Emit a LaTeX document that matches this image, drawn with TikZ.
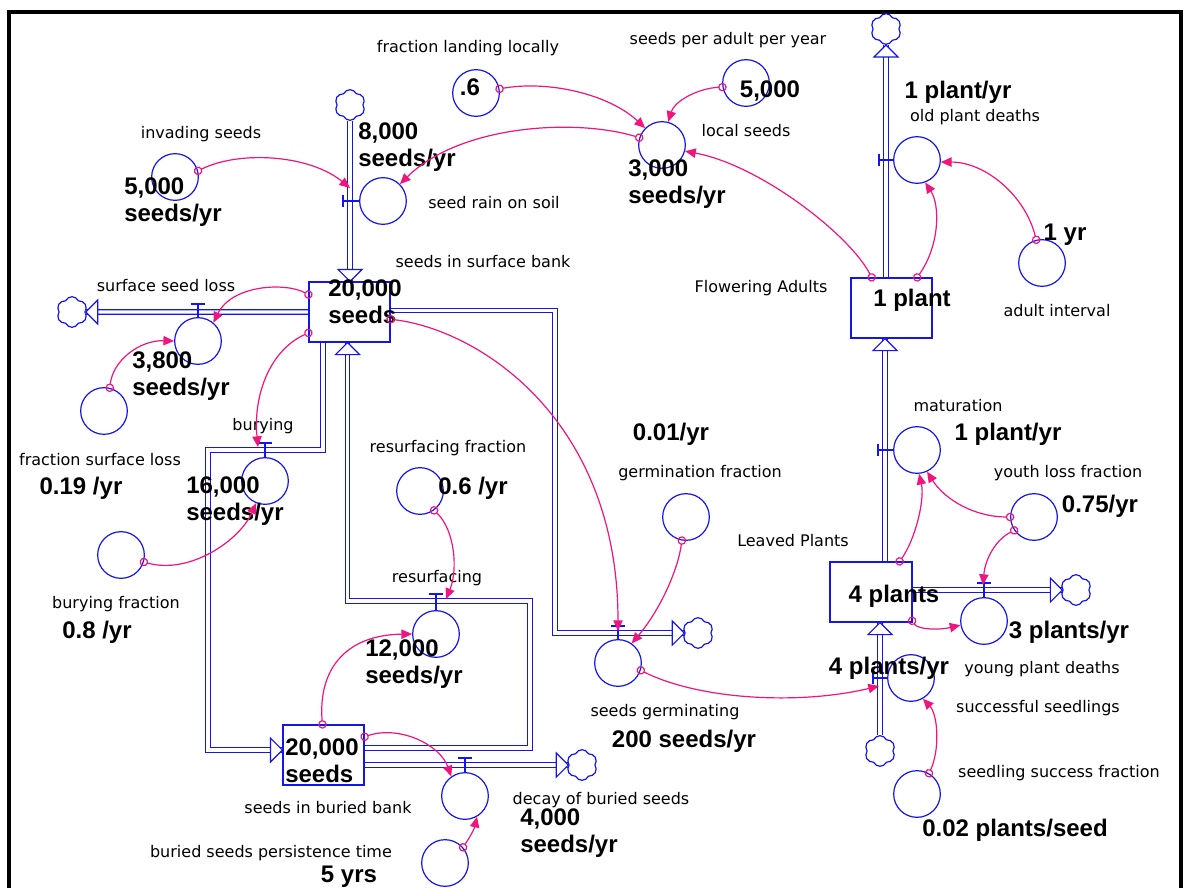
\documentclass[tikz,border=0pt]{standalone}
\usepackage{fontspec}
\setmainfont{DejaVu Sans}
\newfontfamily\valfont{Liberation Sans}
\usetikzlibrary{arrows.meta,shapes.symbols,calc}
\definecolor{pblue}{RGB}{20,20,240}
\definecolor{cpink}{RGB}{240,20,125}
\begin{document}
\begin{tikzpicture}[x=0.75pt,y=-0.75pt,
  pipe/.style={draw=pblue,line width=0.9pt,double=white,double distance=2.6pt},
  stock/.style={draw=pblue,line width=0.9pt,fill=white,rectangle,minimum width=60.75pt,minimum height=45pt,inner sep=0},
  aux/.style={draw=pblue,line width=0.9pt,circle,minimum size=35pt,inner sep=0},
  cloudn/.style={draw=pblue,line width=0.9pt,fill=white,cloud,cloud puffs=6,cloud puff arc=130,aspect=1,minimum width=23pt,minimum height=23pt,inner sep=0},
  lab/.style={font=\fontsize{12}{14}\selectfont,inner sep=0},
  val/.style={font=\valfont\bfseries\fontsize{18}{20}\selectfont,inner sep=0,align=left},
  conn/.style={draw=cpink,line width=0.9pt,shorten <=-3.2pt,{Circle[open,length=6.4pt,width=6.4pt]}-{Triangle[length=8pt,width=7pt]}},
  valve/.style={draw=pblue,line width=0.9pt},
  ptip/.pic={\draw[pblue,line width=0.9pt,fill=white] (0,0) -- (-12,12) -- (-12,-12) -- cycle;}
]
\useasboundingbox (0,0) rectangle (1184,888);
\fill[white] (0,0) rectangle (1184,888);
\draw[line width=3pt] (9,900) -- (9,12) -- (1181,12) -- (1181,900);

% ---------- stocks ----------
\node[stock] (sfb) at (349.5,312) {};
\node[stock] (bb) at (323.5,755) {};
\node[stock] (fa) at (891.5,308) {};
\node[stock] (lp) at (871,592) {};

% ---------- clouds ----------
\node[cloudn] (cl1) at (350,105) {};
\node[cloudn] (cl2) at (886,29) {};
\node[cloudn] (cl3) at (72,312) {};
\node[cloudn] (cl4) at (698,633) {};
\node[cloudn] (cl5) at (582,765) {};
\node[cloudn] (cl6) at (1076,590) {};
\node[cloudn] (cl7) at (880,751) {};

% ---------- corner coordinates ----------
\coordinate (bu1) at (323,450);
\coordinate (bu2) at (208,450);
\coordinate (bu3) at (208,750);
\coordinate (rs1) at (530,748);
\coordinate (rs2) at (530,601);
\coordinate (rs3) at (347.5,601);
\coordinate (g1) at (555,310.5);
\coordinate (g2) at (555,633);
\coordinate (m1) at (885,450);

% ---------- pipes ----------
\draw[pipe] (cl1.south) -- (cl1.south |- sfb.north);
\draw[pipe] (fa.north -| cl2) -- (cl2.south);
\draw[pipe] (sfb.west) -- (cl3.east);
\draw[pipe] (bu1 |- sfb.south) -- (bu1) -- (bu2) -- (bu3) -- (bu3 -| bb.west);
\draw[pipe] (rs1 -| bb.east) -- (rs1) -- (rs2) -- (rs3) -- (rs3 |- sfb.south);
\draw[pipe] (bb.east |- cl5) -- (cl5.west);
\draw[pipe] (g1 -| sfb.east) -- (g1) -- (g2) -- (cl4.west);
\draw[pipe] (m1 |- lp.north) -- (m1 |- fa.south);
\draw[pipe] (lp.east |- cl6) -- (cl6.west);
\draw[pipe] (cl7.north) -- (cl7.north |- lp.south);

% redraw stock borders over pipe ends
\draw[pblue,line width=0.9pt] (sfb.north west) rectangle (sfb.south east);
\draw[pblue,line width=0.9pt] (bb.north west) rectangle (bb.south east);
\draw[pblue,line width=0.9pt] (fa.north west) rectangle (fa.south east);
\draw[pblue,line width=0.9pt] (lp.north west) rectangle (lp.south east);

% ---------- pipe arrowheads ----------
\pic[rotate=-90] at (cl1.south |- sfb.north) {ptip};
\pic[rotate=90] at (cl2.south) {ptip};
\pic[rotate=180] at (cl3.east) {ptip};
\pic at (bu3 -| bb.west) {ptip};
\pic[rotate=90] at (rs3 |- sfb.south) {ptip};
\pic at (cl5.west) {ptip};
\pic at (cl4.west) {ptip};
\pic[rotate=90] at (m1 |- fa.south) {ptip};
\pic at (cl6.west) {ptip};
\pic[rotate=90] at (cl7.north |- lp.south) {ptip};

% ---------- auxiliaries / rates ----------
\node[aux] (inv) at (175,177) {};
\node[aux] (fll) at (476,93) {};
\node[aux] (spa) at (746,83) {};
\node[aux] (local) at (662,145) {};
\node[aux] (rain) at (383,201) {};
\node[aux] (opd) at (917,160) {};
\node[aux] (ai) at (1042,263) {};
\node[aux] (ssl) at (198,341) {};
\node[aux] (fsl) at (104,411) {};
\node[aux] (bur) at (265,481) {};
\node[aux] (bf) at (121,555) {};
\node[aux] (rf) at (420,491) {};
\node[aux] (res) at (436,634) {};
\node[aux] (dec) at (465,796) {};
\node[aux] (bspt) at (445,863) {};
\node[aux] (gf) at (686,517) {};
\node[aux] (sg) at (618,663) {};
\node[aux] (mat) at (917,450) {};
\node[aux] (ylf) at (1034,517) {};
\node[aux] (ypd) at (984,621) {};
\node[aux] (ss) at (911,678) {};
\node[aux] (ssf) at (917,794) {};

% ---------- valves ----------
\draw[valve] (343,195) -- (343,207) (343,201) -- (rain.west);
\draw[valve] (879,154) -- (879,166) (879,160) -- (opd.west);
\draw[valve] (878,444) -- (878,456) (878,450) -- (mat.west);
\draw[valve] (873,672) -- (873,684) (873,678) -- (ss.west);
\draw[valve] (191,304) -- (205,304) (198,304) -- (ssl.north);
\draw[valve] (258,443) -- (272,443) (265,443) -- (bur.north);
\draw[valve] (429,594) -- (443,594) (436,594) -- (res.north);
\draw[valve] (458,758) -- (472,758) (465,758) -- (dec.north);
\draw[valve] (611,626) -- (625,626) (618,626) -- (sg.north);
\draw[valve] (977,583) -- (991,583) (984,583) -- (ypd.north);

% ---------- labels ----------
\node[lab] (l1) at (468,48) {fraction landing locally};
\node[lab] (l2) at (728,40) {seeds per adult per year};
\node[lab] (l3) at (201,134) {invading seeds};
\node[lab] (l4) at (494,203) {seed rain on soil};
\node[lab] (l5) at (746,131) {local seeds};
\node[lab] (l6) at (975,117) {old plant deaths};
\node[lab] (l7) at (483,262) {seeds in surface bank};
\node[lab] (l8) at (761,288) {Flowering Adults};
\node[lab] (l9) at (1057,311) {adult interval};
\node[lab] (l10) at (166,286) {surface seed loss};
\node[lab] (l11) at (100,460) {fraction surface loss};
\node[lab] (l12) at (263,426) {burying};
\node[lab] (l13) at (116,604) {burying fraction};
\node[lab] (l14) at (448,448) {resurfacing fraction};
\node[lab] (l15) at (437,578) {resurfacing};
\node[lab] (l16) at (700,473) {germination fraction};
\node[lab] (l17) at (958,406) {maturation};
\node[lab] (l18) at (1068,473) {youth loss fraction};
\node[lab] (l19) at (793,541) {Leaved Plants};
\node[lab] (l20) at (665,712) {seeds germinating};
\node[lab] (l21) at (1042,669) {young plant deaths};
\node[lab] (l22) at (1038,708) {successful seedlings};
\node[lab] (l23) at (1059,773) {seedling success fraction};
\node[lab] (l24) at (328,808) {seeds in buried bank};
\node[lab] (l25) at (601,800) {decay of buried seeds};
\node[lab] (l26) at (271,853) {buried seeds persistence time};

% ---------- values ----------
\node[val,anchor=west] (v1) at (358,147) {8,000\\seeds/yr};
\node[val,anchor=west] (v2) at (124,202) {5,000\\seeds/yr};
\node[val] (v3) at (470,87) {.6};
\node[val] (v4) at (770,91) {5,000};
\node[val,anchor=west] (v5) at (628,184) {3,000\\seeds/yr};
\node[val] (v6) at (958,92) {1 plant/yr};
\node[val] (v7) at (1065,235) {1 yr};
\node[val,anchor=west] (v8) at (328,302) {20,000\\seeds};
\node[val] (v9) at (912,300) {1 plant};
\node[val,anchor=west] (v10) at (132,376) {3,800\\seeds/yr};
\node[val] (v11) at (81,488) {0.19 /yr};
\node[val,anchor=west] (v12) at (186,501) {16,000\\seeds/yr};
\node[val] (v13) at (97,632) {0.8 /yr};
\node[val] (v14) at (473,488) {0.6 /yr};
\node[val,anchor=west] (v15) at (365,664) {12,000\\seeds/yr};
\node[val,anchor=west] (v16) at (285,761) {20,000\\seeds};
\node[val,anchor=west] (v17) at (520,833) {4,000\\seeds/yr};
\node[val,anchor=north] (v18) at (349,866) {5 yrs};
\node[val] (v19) at (671,434) {0.01/yr};
\node[val] (v20) at (1008,434) {1 plant/yr};
\node[val] (v21) at (1100,506) {0.75/yr};
\node[val] (v22) at (894,596) {4 plants};
\node[val] (v23) at (1069,632) {3 plants/yr};
\node[val] (v24) at (889,668) {4 plants/yr};
\node[val] (v25) at (684,741) {200 seeds/yr};
\node[val] (v26) at (1015,830) {0.02 plants/seed};

% ---------- connector targets on pipes ----------
\coordinate (vrain) at (350,188);
\coordinate (vbur) at (258,447);
\coordinate (vres) at (446,599);
\coordinate (vgerm) at (618,631);
\coordinate (vss) at (879,686);
\coordinate (vyp) at (983,585);

% ---------- connectors ----------
\draw[conn] (inv.15) .. controls (240,150) and (310,155) .. (vrain);
\draw[conn] (fll.10) .. controls (550,80) and (610,95) .. (local.135);
\draw[conn] (spa.190) .. controls (700,88) and (675,100) .. (local.75);
\draw[conn] (local.162) .. controls (575,118) and (460,125) .. (rain.45);
\draw[conn] (fa.123) .. controls (850,235) and (760,165) .. (local.-15);
\draw[conn] (ai.104) .. controls (1025,195) and (985,162) .. (opd.-5);
\draw[conn] (fa.50) .. controls (940,245) and (940,205) .. (opd.-70);
\draw[conn] (sfb.157) .. controls (285,282) and (232,285) .. (ssl.50);
\draw[conn] (fsl.76) .. controls (113,360) and (140,340) .. (ssl.180);
\draw[conn] (sfb.207) .. controls (270,350) and (253,395) .. (vbur);
\draw[conn] (bf.-17) .. controls (190,575) and (240,540) .. (bur.-112);
\draw[conn] (rf.-54) .. controls (455,530) and (458,570) .. (vres);
\draw[conn] (bb.92) .. controls (318,670) and (345,635) .. (res.180);
\draw[conn] (bb.24) .. controls (400,725) and (440,745) .. (dec.125);
\draw[conn] (bspt.41) .. controls (468,840) and (474,830) .. (dec.-60);
\draw[conn] (gf.-100) .. controls (678,570) and (660,610) .. (sg.55);
\draw[conn] (sfb.-10) .. controls (480,330) and (618,420) .. (vgerm);
\draw[conn] (sg.-18) .. controls (700,700) and (800,705) .. (vss);
\draw[conn] (lp.47) .. controls (915,540) and (925,500) .. (mat.-85);
\draw[conn] (ylf.180) .. controls (975,517) and (945,500) .. (mat.-65);
\draw[conn] (ylf.214) .. controls (995,540) and (985,560) .. (vyp);
\draw[conn] (lp.-35) .. controls (918,630) and (940,630) .. (ypd.190);
\draw[conn] (ssf.60) .. controls (940,750) and (938,715) .. (ss.-60);
\end{tikzpicture}
\end{document}
